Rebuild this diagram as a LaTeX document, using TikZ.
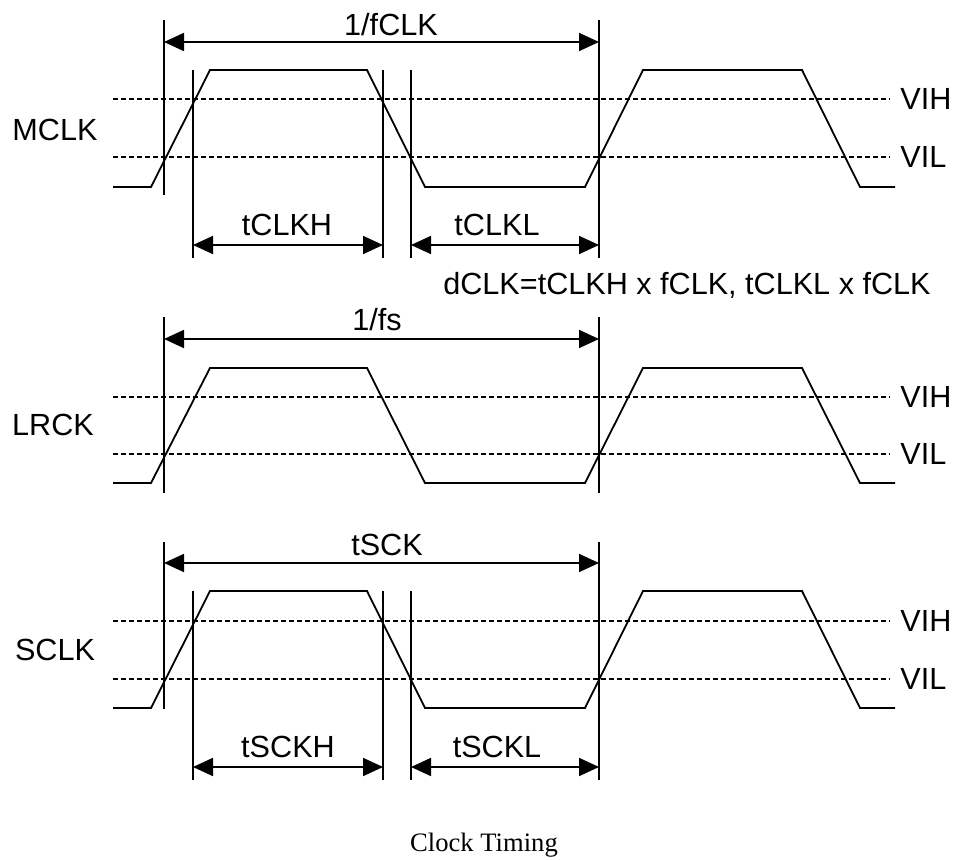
\documentclass[tikz,border=0pt]{standalone}
\usepackage{fontspec}
\setmainfont{Liberation Sans}
\newfontfamily\capfont{Liberation Serif}
\usetikzlibrary{arrows.meta}
\tikzset{
  wave/.style={line width=0.9pt, line join=miter},
  vline/.style={line width=0.9pt},
  thr/.style={line width=0.6pt, dash pattern=on 2.5pt off 1.5pt},
  dim/.style={line width=0.9pt, {Triangle[length=10pt,width=9pt]}-{Triangle[length=10pt,width=9pt]}},
  lbl/.style={font=\fontsize{15.3}{18}\selectfont, inner sep=0pt},
  thrlbl/.style={anchor=west, inner xsep=5pt},
}
\begin{document}
\begin{tikzpicture}[x=0.5pt,y=-0.5pt]
  \useasboundingbox (0,0) rectangle (955,860);
  % MCLK
  \begin{scope}
    \node[lbl] (mclk) at (55,130) {MCLK};
    \node[lbl,thrlbl] (mvih) at (890,99) {VIH};
    \node[lbl,thrlbl] (mvil) at (890,157) {VIL};
    \coordinate (mh0) at (113,99);
    \coordinate (ml0) at (113,157);
    \draw[thr] (mh0) -- (mvih);
    \draw[thr] (ml0) -- (mvil);
    \draw[wave] (113,187) -- (151,187) -- (210,70) -- (367,70) -- (425,187)
      -- (585,187) -- (643,70) -- (802,70) -- (860,187) -- (895,187);
    \draw[vline] (164,20) -- (164,195);
    \draw[vline] (193,70) -- (193,258);
    \draw[vline] (383,70) -- (383,258);
    \draw[vline] (411,70) -- (411,258);
    \draw[vline] (599,20) -- (599,258);
    \coordinate (mp0) at (164,42);
    \coordinate (mp1) at (599,42);
    \coordinate (mhi0) at (193,245);
    \coordinate (mhi1) at (383,245);
    \coordinate (mlo0) at (411,245);
    \coordinate (mlo1) at (599,245);
    \draw[dim] (mp0) -- (mp1);
    \draw[dim] (mhi0) -- (mhi1);
    \draw[dim] (mlo0) -- (mlo1);
    \node[lbl] (mper) at (391,25) {1/fCLK};
    \node[lbl] (mhigh) at (287,225) {tCLKH};
    \node[lbl] (mlow) at (497,225) {tCLKL};
  \end{scope}
  \node[lbl] (dclk) at (687,285) {dCLK=tCLKH x fCLK, tCLKL x fCLK};
  % LRCK
  \begin{scope}[shift={(0,297)}]
    \node[lbl] (lrck) at (53,128) {LRCK};
    \node[lbl,thrlbl] (lvih) at (890,100) {VIH};
    \node[lbl,thrlbl] (lvil) at (890,157) {VIL};
    \coordinate (lh0) at (113,100);
    \coordinate (ll0) at (113,157);
    \draw[thr] (lh0) -- (lvih);
    \draw[thr] (ll0) -- (lvil);
    \draw[wave] (113,186) -- (151,186) -- (210,71) -- (367,71) -- (425,186)
      -- (585,186) -- (643,71) -- (802,71) -- (860,186) -- (895,186);
    \draw[vline] (164,20) -- (164,196);
    \draw[vline] (599,20) -- (599,196);
    \coordinate (lp0) at (164,42);
    \coordinate (lp1) at (599,42);
    \draw[dim] (lp0) -- (lp1);
    \node[lbl] (lper) at (377,23) {1/fs};
  \end{scope}
  % SCLK
  \begin{scope}[shift={(0,521)}]
    \node[lbl] (sclk) at (55,129) {SCLK};
    \node[lbl,thrlbl] (svih) at (890,100) {VIH};
    \node[lbl,thrlbl] (svil) at (890,158) {VIL};
    \coordinate (sh0) at (113,100);
    \coordinate (sl0) at (113,158);
    \draw[thr] (sh0) -- (svih);
    \draw[thr] (sl0) -- (svil);
    \draw[wave] (113,187) -- (151,187) -- (210,70) -- (367,70) -- (425,187)
      -- (585,187) -- (643,70) -- (802,70) -- (860,187) -- (895,187);
    \draw[vline] (164,21) -- (164,188);
    \draw[vline] (193,70) -- (193,259);
    \draw[vline] (383,70) -- (383,259);
    \draw[vline] (411,70) -- (411,259);
    \draw[vline] (599,21) -- (599,259);
    \coordinate (sp0) at (164,42);
    \coordinate (sp1) at (599,42);
    \coordinate (shi0) at (193,246);
    \coordinate (shi1) at (383,246);
    \coordinate (slo0) at (411,246);
    \coordinate (slo1) at (599,246);
    \draw[dim] (sp0) -- (sp1);
    \draw[dim] (shi0) -- (shi1);
    \draw[dim] (slo0) -- (slo1);
    \node[lbl] (sper) at (387,24) {tSCK};
    \node[lbl] (shigh) at (288,226) {tSCKH};
    \node[lbl] (slow) at (497,226) {tSCKL};
  \end{scope}
  \node[font=\capfont\fontsize{13.3}{16}\selectfont] (caption) at (484,845) {Clock Timing};
\end{tikzpicture}
\end{document}
